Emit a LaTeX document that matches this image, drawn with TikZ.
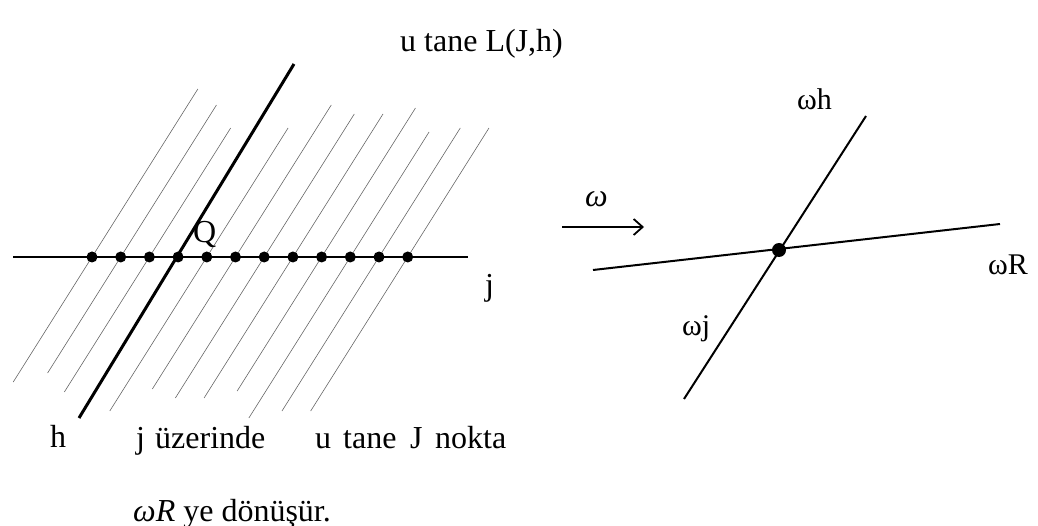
\documentclass[tikz,border=0pt]{standalone}
\usepackage{fontspec}
\setmainfont{Liberation Serif}
\usetikzlibrary{arrows.meta}
\begin{document}
\begin{tikzpicture}[x=1pt,y=-1pt,
  thinline/.style={line width=0.6pt, draw=black!60},
  thickline/.style={line width=3pt, draw=black},
  axisline/.style={line width=2pt, draw=black},
  dotnode/.style={circle, fill=black, inner sep=0pt, minimum size=11pt},
  bigdot/.style={circle, fill=black, inner sep=0pt, minimum size=14pt},
  lbl/.style={inner sep=0pt, anchor=base west, font=\fontsize{32}{36}\selectfont},
  rlbl/.style={inner sep=0pt, anchor=base west, font=\fontsize{30}{34}\selectfont},
]
\useasboundingbox (0,0) rectangle (1038,526);

% ---- left figure ----
\coordinate (jl) at (13,257);
\coordinate (jr) at (468,257);
\draw[axisline] (jl) -- (jr);

% thin parallel lines L(J,h): top and bottom ends
\foreach \i/\x/\t/\b in {1/92.0/89/382, 2/120.7/105/373, 3/149.4/128/392,
  5/206.8/128/411, 6/235.5/105/389, 7/264.2/114/398, 8/292.9/114/398,
  9/321.6/108/391, 10/350.3/132/418, 11/379.0/128/411, 12/407.7/128/411}{
  \coordinate (t\i) at ({\x+0.63*(257-\t)},\t);
  \coordinate (b\i) at ({\x-0.63*(\b-257)},\b);
  \draw[thinline] (t\i) -- (b\i);
}

% line h
\coordinate (ht) at (294,64);
\coordinate (hb) at (79,418);
\draw[thickline] (ht) -- (hb);

% dots on j
\foreach \i/\x in {1/92.0, 2/120.7, 3/149.4, 4/178.1, 5/206.8, 6/235.5,
  7/264.2, 8/292.9, 9/321.6, 10/350.3, 11/379.0, 12/407.7}{
  \node[dotnode] (d\i) at (\x,257) {};
}

% labels left
\node[lbl] (lab) at (400,52) {u tane L(J,h)};
\node[lbl] (q) at (193,243) {Q};
\node[lbl] (jlab) at (485,296) {j};
\node[lbl] (hlab) at (50,447) {h};
\node[lbl] (w1) at (136,448) {j};
\node[lbl] (w2) at (155,448) {üzerinde};
\node[lbl] (w3) at (315,448) {u};
\node[lbl] (w4) at (343,448) {tane};
\node[lbl] (w5) at (410,448) {J};
\node[lbl] (w6) at (435,448) {nokta};
\node[lbl] (cap2) at (133,521) {\textit{ωR} ye dönüşür.};

% ---- arrow ----
\coordinate (al) at (562,227);
\coordinate (ar) at (644,227);
\draw[line width=1.8pt, -{Straight Barb[length=9pt,width=16pt,line width=1.8pt]}] (al) -- (ar);
\node[lbl, font=\fontsize{32}{36}\selectfont\itshape] (om) at (585,207) {ω};

% ---- right figure ----
\coordinate (Rl) at (593,270);
\coordinate (Rr) at (1000,224);
\coordinate (hht) at (866,116);
\coordinate (hhb) at (684,399);
\draw[axisline] (Rl) -- (Rr);
\draw[axisline] (hht) -- (hhb);
\node[bigdot] (P) at (779,250) {};
\node[rlbl] (wh) at (797,110) {ωh};
\node[rlbl] (wR) at (988,275) {ωR};
\node[rlbl] (wj) at (682,336) {ωj};
\end{tikzpicture}
\end{document}
